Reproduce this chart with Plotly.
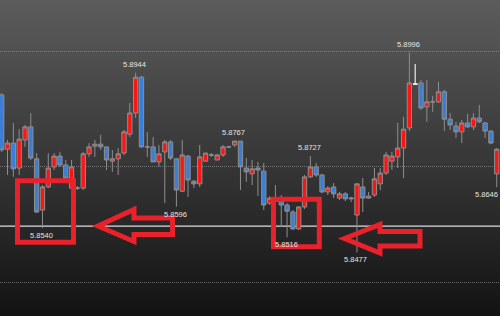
import plotly.graph_objects as go

# ---------------- data (prices) ----------------
opens = [5.8886, 5.8745, 5.8761, 5.8696, 5.8769, 5.8803, 5.8720, 5.8587, 5.8647, 5.8699,
         5.8727, 5.8704, 5.8644, 5.8644, 5.8644, 5.8733, 5.8753, 5.8758, 5.8751, 5.8714,
         5.8720, 5.8735, 5.8784, 5.8839, 5.8932, 5.8751, 5.8751, 5.8712, 5.8738, 5.8764,
         5.8720, 5.8636, 5.8727, 5.8662, 5.8655, 5.8714, 5.8730, 5.8717, 5.8730, 5.8751,
         5.8756, 5.8766, 5.8696, 5.8681, 5.8696, 5.8688, 5.8605, 5.8610, 5.8610, 5.8600,
         5.8582, 5.8538, 5.8595, 5.8673, 5.8699, 5.8678, 5.8634, 5.8647, 5.8618, 5.8629,
         5.8616, 5.8574, 5.8647, 5.8618, 5.8626, 5.8655, 5.8683, 5.8714, 5.8725, 5.8748,
         5.8800, 5.8914, 5.8917, 5.8855, 5.8868, 5.8868, 5.8894, 5.8823, 5.8805, 5.8790,
         5.8813, 5.8803, 5.8826, 5.8813, 5.8792, 5.8681]
highs = [5.8891, 5.8769, 5.8813, 5.8797, 5.8808, 5.8839, 5.8735, 5.8652, 5.8735, 5.8735,
         5.8738, 5.8717, 5.8717, 5.8649, 5.8738, 5.8761, 5.8769, 5.8782, 5.8751, 5.8743,
         5.8748, 5.8795, 5.8865, 5.8944, 5.8935, 5.8790, 5.8777, 5.8756, 5.8769, 5.8769,
         5.8722, 5.8769, 5.8730, 5.8665, 5.8756, 5.8735, 5.8735, 5.8733, 5.8756, 5.8753,
         5.8767, 5.8766, 5.8722, 5.8717, 5.8712, 5.8709, 5.8623, 5.8652, 5.8626, 5.8605,
         5.8587, 5.8597, 5.8678, 5.8727, 5.8709, 5.8681, 5.8649, 5.8657, 5.8634, 5.8634,
         5.8621, 5.8657, 5.8670, 5.8634, 5.8696, 5.8696, 5.8738, 5.8738, 5.8813, 5.8829,
         5.8996, 5.8966, 5.8925, 5.8925, 5.8883, 5.8920, 5.8899, 5.8839, 5.8816, 5.8821,
         5.8837, 5.8839, 5.8860, 5.8816, 5.8795, 5.8748]
lows = [5.8738, 5.8678, 5.8673, 5.8678, 5.8751, 5.8717, 5.8579, 5.8540, 5.8644, 5.8691,
        5.8699, 5.8668, 5.8639, 5.8639, 5.8639, 5.8725, 5.8725, 5.8743, 5.8691, 5.8686,
        5.8678, 5.8730, 5.8777, 5.8826, 5.8748, 5.8725, 5.8712, 5.8699, 5.8605, 5.8717,
        5.8596, 5.8634, 5.8621, 5.8644, 5.8647, 5.8712, 5.8725, 5.8717, 5.8725, 5.8748,
        5.8751, 5.8639, 5.8660, 5.8652, 5.8623, 5.8587, 5.8600, 5.8592, 5.8543, 5.8516,
        5.8535, 5.8535, 5.8590, 5.8670, 5.8673, 5.8631, 5.8626, 5.8618, 5.8613, 5.8610,
        5.8608, 5.8477, 5.8582, 5.8616, 5.8621, 5.8639, 5.8678, 5.8691, 5.8696, 5.8670,
        5.8792, 5.8912, 5.8847, 5.8816, 5.8842, 5.8865, 5.8792, 5.8795, 5.8774, 5.8761,
        5.8800, 5.8795, 5.8813, 5.8774, 5.8758, 5.8646]
closes = [5.8743, 5.8761, 5.8694, 5.8771, 5.8803, 5.8722, 5.8582, 5.8647, 5.8696, 5.8727,
          5.8704, 5.8670, 5.8699, 5.8644, 5.8733, 5.8751, 5.8758, 5.8751, 5.8717, 5.8720,
          5.8733, 5.8790, 5.8839, 5.8932, 5.8751, 5.8751, 5.8712, 5.8733, 5.8764, 5.8722,
          5.8639, 5.8730, 5.8665, 5.8655, 5.8725, 5.8735, 5.8730, 5.8730, 5.8751, 5.8751,
          5.8766, 5.8699, 5.8686, 5.8694, 5.8691, 5.8600, 5.8618, 5.8610, 5.8600, 5.8584,
          5.8538, 5.8595, 5.8673, 5.8699, 5.8678, 5.8634, 5.8644, 5.8629, 5.8629, 5.8616,
          5.8618, 5.8655, 5.8618, 5.8623, 5.8668, 5.8683, 5.8730, 5.8727, 5.8748, 5.8797,
          5.8917, 5.8914, 5.8852, 5.8868, 5.8868, 5.8894, 5.8823, 5.8808, 5.8790, 5.8813,
          5.8803, 5.8826, 5.8816, 5.8792, 5.8761, 5.8745]
bars = list(range(len(opens)))

white_doji = [71]                      # candle drawn with white lines
support_level = 5.8545                 # white horizontal line
label_bars = [23, 7, 30, 40, 49, 53, 61, 70, 85]
label_kind = ["high", "low", "low", "high", "low", "high", "low", "high", "low"]

# ---------------- styling ----------------
RED = "#ff1414"
BLUE = "#3b7ed8"
EDGE = "#8e8e8e"
MARK = "#e8212b"
W, H = 500, 316

fig = go.Figure()

fig.add_trace(go.Candlestick(
    x=bars, open=opens, high=highs, low=lows, close=closes,
    increasing=dict(fillcolor=RED, line=dict(color=EDGE, width=1)),
    decreasing=dict(fillcolor=BLUE, line=dict(color=EDGE, width=1)),
    whiskerwidth=0, hoverinfo="skip", showlegend=False,
))
fig.add_trace(go.Candlestick(
    x=[bars[i] for i in white_doji],
    open=[opens[i] for i in white_doji], high=[highs[i] for i in white_doji],
    low=[lows[i] for i in white_doji], close=[closes[i] for i in white_doji],
    increasing=dict(fillcolor="#ffffff", line=dict(color="#f0f0f0", width=1)),
    decreasing=dict(fillcolor="#ffffff", line=dict(color="#f0f0f0", width=1)),
    whiskerwidth=0, hoverinfo="skip", showlegend=False,
))

shapes = []
# vertical gradient background
nb = 79
for k in range(nb):
    t = k / (nb - 1)
    c = int(round(92 - 73 * t))
    shapes.append(dict(type="rect", xref="paper", yref="paper", x0=0, x1=1,
                       y0=1 - (k + 1) / nb, y1=1 - k / nb, layer="below",
                       line=dict(width=0), fillcolor=f"rgb({c},{c},{c})"))

# support line
shapes.append(dict(type="line", xref="paper", yref="y", x0=0, x1=1,
                   y0=support_level, y1=support_level, layer="between",
                   line=dict(color="#dcdcdc", width=1.3)))


def X(p):
    return p / W


def Y(p):
    return 1 - p / H


def rect(x0, y0, x1, y1):
    return dict(type="rect", xref="paper", yref="paper", x0=X(x0), x1=X(x1),
                y0=Y(y0), y1=Y(y1), line=dict(color=MARK, width=5),
                fillcolor="rgba(0,0,0,0)", layer="above")


def poly(pts):
    d = "M " + " L ".join(f"{X(a):.5f},{Y(b):.5f}" for a, b in pts) + " Z"
    return dict(type="path", xref="paper", yref="paper", path=d,
                line=dict(color=MARK, width=5), fillcolor="rgba(0,0,0,0)", layer="above")


shapes.append(rect(17.5, 180.8, 73.5, 242.3))
shapes.append(rect(273.5, 199.2, 319.3, 246.8))
shapes.append(poly([(98, 226), (134, 209.5), (134, 218), (172.5, 218), (172.5, 234.5),
                    (134, 234.5), (134, 241.5)]))
shapes.append(poly([(344.5, 238.5), (380, 224.5), (380, 231.5), (420, 231.5), (420, 246),
                    (380, 246), (380, 253)]))

annotations = []
last = bars[-1]
for b, kind in zip(label_bars, label_kind):
    val = highs[b] if kind == "high" else lows[b]
    at_edge = b == last
    annotations.append(dict(
        x=b, y=val, xref="x", yref="y", text=f"{val:.4f}", showarrow=False,
        xanchor="right" if at_edge else "center",
        xshift=3 if at_edge else -1, yshift=2 if kind == "high" else -1,
        yanchor="bottom" if kind == "high" else "top",
        font=dict(family="Liberation Sans", size=7.5, color="#e4e4e4"),
    ))

fig.update_layout(
    width=W, height=H, margin=dict(l=0, r=0, t=0, b=0),
    paper_bgcolor="#2e2e2e", plot_bgcolor="rgba(0,0,0,0)",
    showlegend=False, boxgap=0.26, boxgroupgap=0,
    shapes=shapes, annotations=annotations,
    xaxis=dict(range=[-0.29, 85.56], showgrid=False, zeroline=False, showticklabels=False,
               ticks="", showline=False, rangeslider=dict(visible=False), fixedrange=True),
    yaxis=dict(range=[5.83118, 5.913245], tick0=5.84, dtick=0.03, showgrid=True,
               gridcolor="rgba(170,170,170,0.55)", griddash="1px,1px", gridwidth=1,
               zeroline=False, showticklabels=False, ticks="", showline=False, fixedrange=True),
)

fig.write_html("out.html")
